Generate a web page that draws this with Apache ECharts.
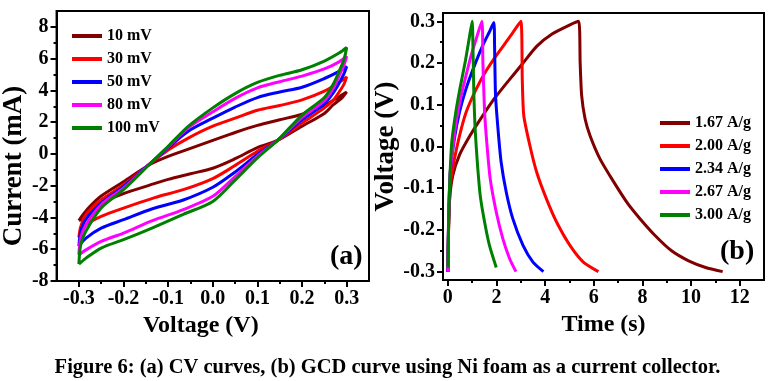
<!DOCTYPE html>
<html>
<head>
<meta charset="utf-8">
<script src="https://cdn.jsdelivr.net/npm/echarts@6/dist/echarts.min.js"></script>
<style>
html,body{margin:0;padding:0;background:#fff;}
#chart{width:775px;height:381px;}
</style>
</head>
<body>
<div id="chart"></div>
<script>
// ---------- Data: (a) CV curves, [voltage V, current mA] ----------
const cvNames = ['10 mV', '30 mV', '50 mV', '80 mV', '100 mV'];
const cv10 = [[-0.300,-4.20],[-0.290,-3.80],[-0.275,-3.30],[-0.250,-2.65],[-0.200,-1.75],[-0.140,-0.65],[-0.100,-0.15],[-0.050,0.35],[0.000,0.85],[0.050,1.35],[0.100,1.80],[0.150,2.15],[0.200,2.50],[0.250,3.05],[0.280,3.55],[0.300,3.90],
  [0.290,3.55],[0.270,3.10],[0.250,2.55],[0.200,1.75],[0.145,0.85],[0.100,0.40],[0.050,-0.30],[0.000,-0.90],[-0.050,-1.25],[-0.100,-1.60],[-0.140,-1.95],[-0.200,-2.50],[-0.250,-3.10],[-0.280,-3.70],[-0.295,-4.10],[-0.300,-4.20]];
const cv30 = [[-0.300,-5.26],[-0.296,-4.60],[-0.285,-3.85],[-0.250,-2.90],[-0.200,-1.95],[-0.140,-0.60],[-0.100,0.25],[-0.055,1.00],[0.000,1.75],[0.050,2.25],[0.100,2.75],[0.150,3.05],[0.200,3.40],[0.250,3.95],[0.280,4.45],[0.300,4.85],
  [0.294,4.40],[0.283,3.90],[0.270,3.40],[0.250,2.90],[0.200,1.95],[0.145,0.85],[0.100,0.17],[0.047,-0.78],[0.000,-1.55],[-0.066,-2.25],[-0.130,-2.75],[-0.200,-3.41],[-0.250,-3.93],[-0.284,-4.46],[-0.300,-5.26]];
const cv50 = [[-0.300,-5.80],[-0.296,-4.90],[-0.285,-4.15],[-0.250,-3.10],[-0.200,-2.05],[-0.140,-0.60],[-0.100,0.38],[-0.055,1.43],[0.000,2.25],[0.050,2.95],[0.100,3.55],[0.150,3.90],[0.200,4.20],[0.250,4.75],[0.283,5.20],[0.300,5.50],
  [0.294,5.05],[0.283,4.45],[0.270,3.85],[0.250,3.15],[0.200,2.15],[0.145,0.85],[0.100,-0.04],[0.047,-1.20],[0.000,-2.10],[-0.066,-2.90],[-0.135,-3.45],[-0.200,-4.14],[-0.250,-4.67],[-0.284,-5.30],[-0.300,-5.80]];
const cv80 = [[-0.300,-6.35],[-0.296,-5.30],[-0.285,-4.50],[-0.250,-3.20],[-0.200,-2.15],[-0.140,-0.60],[-0.100,0.45],[-0.055,1.64],[0.000,2.65],[0.050,3.50],[0.100,4.16],[0.150,4.55],[0.200,4.90],[0.250,5.35],[0.283,5.80],[0.300,6.15],
  [0.294,5.60],[0.283,4.90],[0.270,4.15],[0.250,3.35],[0.200,2.30],[0.145,0.85],[0.100,-0.15],[0.047,-1.50],[0.000,-2.67],[-0.066,-3.50],[-0.135,-4.20],[-0.200,-4.98],[-0.250,-5.51],[-0.284,-6.04],[-0.300,-6.35]];
const cv100 = [[-0.300,-6.94],[-0.296,-5.75],[-0.285,-4.90],[-0.250,-3.40],[-0.200,-2.25],[-0.140,-0.60],[-0.100,0.48],[-0.055,1.74],[0.000,2.90],[0.050,3.80],[0.100,4.50],[0.150,4.95],[0.200,5.30],[0.250,5.85],[0.283,6.35],[0.300,6.70],
  [0.294,5.95],[0.283,5.20],[0.270,4.40],[0.250,3.55],[0.200,2.45],[0.145,0.85],[0.100,-0.25],[0.047,-1.73],[0.000,-2.99],[-0.066,-3.80],[-0.135,-4.65],[-0.200,-5.40],[-0.250,-5.93],[-0.284,-6.56],[-0.300,-6.94]];

// ---------- Data: (b) GCD curves, [time s, voltage V] ----------
const gcdNames = ['1.67 A/g', '2.00 A/g', '2.34 A/g', '2.67 A/g', '3.00 A/g'];
const gcd167 = [[0,-0.30],[0.02,-0.22],[0.07,-0.13],[0.2,-0.07],[0.48,-0.02],[0.9,0.025],[1.3,0.062],[1.85,0.11],[2.5,0.158],[3.05,0.197],[3.65,0.24],[4.3,0.27],[5.0,0.291],[5.38,0.30],[5.44,0.20],[5.5,0.123],[5.64,0.067],[5.84,0.027],[6.25,-0.029],[6.8,-0.083],[7.4,-0.137],[7.9,-0.173],[8.5,-0.212],[9.2,-0.25],[9.9,-0.274],[10.6,-0.29],[11.3,-0.30]];
const gcd200 = [[0,-0.30],[0.03,-0.20],[0.1,-0.09],[0.27,-0.03],[0.48,0.026],[0.75,0.082],[1.17,0.138],[1.58,0.182],[1.99,0.218],[2.54,0.262],[3.0,0.30],[3.06,0.16],[3.12,0.075],[3.37,0.003],[3.65,-0.061],[4.05,-0.125],[4.47,-0.181],[5.02,-0.237],[5.57,-0.277],[6.19,-0.30]];
const gcd234 = [[0,-0.30],[0.03,-0.18],[0.1,-0.06],[0.27,0.019],[0.48,0.083],[0.75,0.139],[1.1,0.195],[1.44,0.243],[1.71,0.275],[1.89,0.297],[1.92,0.243],[1.96,0.123],[2.06,0.043],[2.19,-0.037],[2.4,-0.109],[2.67,-0.173],[3.09,-0.237],[3.5,-0.277],[3.93,-0.30]];
const gcd267 = [[0,-0.30],[0.03,-0.17],[0.1,-0.06],[0.21,0.0],[0.34,0.059],[0.55,0.123],[0.75,0.171],[0.96,0.219],[1.17,0.259],[1.4,0.30],[1.44,0.203],[1.51,0.083],[1.61,0.003],[1.74,-0.077],[1.99,-0.157],[2.26,-0.221],[2.54,-0.269],[2.8,-0.30]];
const gcd300 = [[0,-0.29],[0.03,-0.18],[0.08,-0.08],[0.16,0.01],[0.32,0.08],[0.5,0.14],[0.72,0.205],[0.88,0.26],[1.0,0.30],[1.03,0.243],[1.07,0.123],[1.12,0.043],[1.21,-0.037],[1.33,-0.117],[1.51,-0.181],[1.71,-0.237],[1.99,-0.29]];

// ---------- Tick values ----------
const cvXTicks = [-0.3,-0.2,-0.1,0.0,0.1,0.2,0.3];
const cvXMinor = [-0.25,-0.15,-0.05,0.05,0.15,0.25];
const cvYTicks = [-8,-6,-4,-2,0,2,4,6,8];
const cvYMinor = [-7,-5,-3,-1,1,3,5,7];
const gcdXTicks = [0,2,4,6,8,10,12];
const gcdXMinor = [1,3,5,7,9,11];
const gcdYTicks = [-0.3,-0.2,-0.1,0.0,0.1,0.2,0.3];
const gcdYMinor = [-0.25,-0.15,-0.05,0.05,0.15,0.25];

const colors = ['#800000', '#ff0000', '#0000ff', '#ff00ff', '#008000'];
const FONT = "'Times New Roman', 'Liberation Serif', serif";

function majorAxis(opts) {
  return Object.assign({
    type: 'value',
    axisLine: { show: true, onZero: false, lineStyle: { color: '#000', width: 2 } },
    axisTick: { show: true, inside: false, length: 6, customValues: opts.ticks, lineStyle: { color: '#000', width: 2 } },
    axisLabel: { customValues: opts.ticks, formatter: opts.fmt, color: '#000', fontFamily: FONT, fontWeight: 'bold', fontSize: 20, margin: 8 },
    splitLine: { show: false },
    nameLocation: 'middle',
    nameTextStyle: { color: '#000', fontFamily: FONT, fontWeight: 'bold', fontSize: 24 }
  }, opts.extra);
}
function minorAxis(opts) {
  return Object.assign({
    type: 'value',
    axisLine: { show: false, onZero: false },
    axisTick: { show: true, inside: false, length: 3, customValues: opts.ticks, lineStyle: { color: '#000', width: 2 } },
    axisLabel: { show: false },
    splitLine: { show: false }
  }, opts.extra);
}
const f1 = v => v.toFixed(1);
const f0 = v => String(Math.round(v));

const series = [];
[cv10, cv30, cv50, cv80, cv100].forEach((d, i) => {
  series.push({ name: cvNames[i], type: 'line', xAxisIndex: 0, yAxisIndex: 0, data: d, showSymbol: false, smooth: 0.3,
    lineStyle: { color: colors[i], width: 3 }, itemStyle: { color: colors[i] }, z: 2 + i });
});
[gcd167, gcd200, gcd234, gcd267, gcd300].forEach((d, i) => {
  series.push({ name: gcdNames[i], type: 'line', xAxisIndex: 2, yAxisIndex: 2, data: d, showSymbol: false, smooth: 0.2,
    lineStyle: { color: colors[i], width: 3 }, itemStyle: { color: colors[i] }, z: 2 + i });
});

const legendBase = {
  orient: 'vertical', icon: 'rect', itemWidth: 30, itemHeight: 4, itemGap: 7,
  textStyle: { color: '#000', fontFamily: FONT, fontWeight: 'bold', fontSize: 16, lineHeight: 16 },
  selectedMode: false
};

const chart = echarts.init(document.getElementById('chart'), null, { renderer: 'canvas' });
chart.setOption({
  animation: false,
  backgroundColor: '#fff',
  grid: [
    { left: 49, top: 11, width: 320, height: 270, show: true, borderColor: '#000', borderWidth: 2, backgroundColor: 'transparent' },
    { left: 443, top: 13, width: 321, height: 267, show: true, borderColor: '#000', borderWidth: 2, backgroundColor: 'transparent' }
  ],
  xAxis: [
    majorAxis({ ticks: cvXTicks, fmt: f1, extra: { gridIndex: 0, position: 'bottom', min: -0.35, max: 0.35, name: 'Voltage (V)', nameGap: 29,
      nameTextStyle: { color: '#000', fontFamily: FONT, fontWeight: 'bold', fontSize: 24, padding: [0, 24, 0, 0] } } }),
    minorAxis({ ticks: cvXMinor, extra: { gridIndex: 0, position: 'bottom', min: -0.35, max: 0.35 } }),
    majorAxis({ ticks: gcdXTicks, fmt: f0, extra: { gridIndex: 1, position: 'bottom', min: -0.2, max: 13, name: 'Time (s)', nameGap: 29 } }),
    minorAxis({ ticks: gcdXMinor, extra: { gridIndex: 1, position: 'bottom', min: -0.2, max: 13 } })
  ],
  yAxis: [
    majorAxis({ ticks: cvYTicks, fmt: f0, extra: { gridIndex: 0, position: 'left', min: -8, max: 9, name: 'Current (mA)', nameGap: 24,
      nameTextStyle: { color: '#000', fontFamily: FONT, fontWeight: 'bold', fontSize: 27, padding: [0, 40, 0, 0] } } }),
    minorAxis({ ticks: cvYMinor, extra: { gridIndex: 0, position: 'left', min: -8, max: 9 } }),
    majorAxis({ ticks: gcdYTicks, fmt: f1, extra: { gridIndex: 1, position: 'left', min: -0.32, max: 0.32, name: 'Voltage (V)', nameGap: 33,
      nameTextStyle: { color: '#000', fontFamily: FONT, fontWeight: 'bold', fontSize: 27 } } }),
    minorAxis({ ticks: gcdYMinor, extra: { gridIndex: 1, position: 'left', min: -0.32, max: 0.32 } })
  ],
  legend: [
    Object.assign({}, legendBase, { data: cvNames, left: 67, top: 23 }),
    Object.assign({}, legendBase, { data: gcdNames, left: 655, top: 110 })
  ],
  graphic: [
    { type: 'text', left: 330, top: 243, style: { text: '(a)', font: 'bold 28px ' + FONT, fill: '#000' } },
    { type: 'text', left: 720, top: 238, style: { text: '(b)', font: 'bold 28px ' + FONT, fill: '#000' } },
    { type: 'text', left: 'center', top: 357, style: { text: 'Figure 6: (a) CV curves, (b) GCD curve using Ni foam as a current collector.', font: 'bold 20.5px ' + FONT, fill: '#000' } }
  ],
  series: series
});
</script>
</body>
</html>
